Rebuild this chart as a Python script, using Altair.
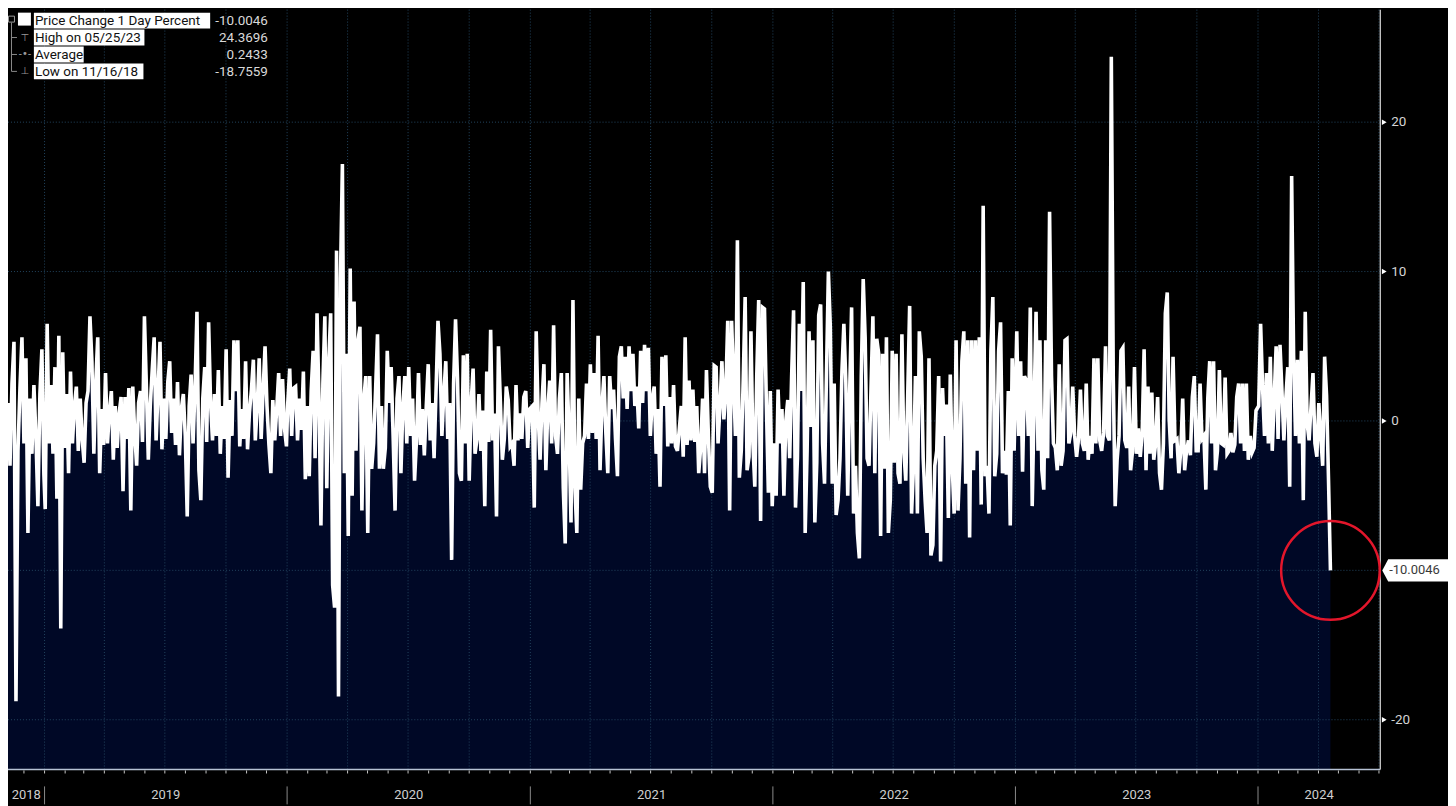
import altair as alt
import pandas as pd

# ---------------- data ----------------
V2018 = [1.2, -3.0, 2.5, 5.3, -18.7559, -2.0, 2.2, 5.6, -1.5, 4.2,
         -7.5, 1.5, -2.2, 2.4, -1.0, -5.7, 1.8, 4.8, -3.6]

V2019 = [-5.9, 6.5, -1.5, 2.4, -2.2, 3.6, -5.2, 5.7, -13.9, 4.6,
         -1.8, 1.8, -3.5, 3.3, -1.5, 1.0, 2.3, -2.0, 1.5, -1.2,
         -2.8, 1.2, 2.0, 7.0, 4.0, -2.2, 2.6, 5.6, -3.5, 0.8,
         -1.6, 3.2, -1.5, 0.6, 2.0, -2.6, 1.0, -1.8, 0.5, 1.6,
         -4.7, 1.6, -1.2, 2.2, -6.0, 2.3, -0.8, -3.0, 1.2, 2.0,
         -1.4, 7.0, 2.3, -2.6, 1.0, 3.4, 5.6, -1.3, 2.0, 5.3,
         -1.9, 1.5, -1.2, 2.6, 4.0, -0.8, 1.5, -1.6, 2.6, -2.3,
         0.8, 1.8, -1.0, -6.4, 1.0, 3.1, -1.5, 2.2, 7.3, -3.3,
         -5.3, 1.5, 3.6, -1.4, 6.6, 1.2, -1.3, 1.8, -1.0, 3.4,
         -2.2, 1.0, -1.2, 4.8, -3.8, 1.4, -1.0, 5.4, 2.0, 5.4,
         -1.7, 0.8, -1.2, 4.0, -1.9, 0.6, 2.1, 4.1, -1.3, 1.0,
         4.2, -1.2, 2.0, 5.0, 1.0, -1.6, -3.5, 1.4, -1.3, 0.8,
         3.2, -1.0, 2.8, -0.5, -1.7]

V2020 = [1.2, 3.5, -1.0, 2.2, 2.3, -1.3, 1.5, -0.6, 3.3, -3.9,
         1.0, -3.7, 2.0, 4.7, -2.5, 7.2, 1.5, -7.0, 2.5, 7.0,
         -4.5, 4.0, 7.2, -11.0, -12.5, 11.4, -18.45, 9.5, 17.2, -3.5,
         4.5, -7.7, 10.2, -5.0, 8.0, -2.0, 5.4, 6.3, -6.0, 1.5,
         3.0, -7.5, 3.0, -3.2, -1.5, 2.0, 5.8, -3.2, 1.0, -3.2,
         -1.8, 4.7, 1.2, 3.6, -1.0, -6.0, 1.5, 3.0, -3.5, 1.0,
         3.0, -1.5, 3.6, -1.0, 1.5, -4.0, -1.2, 3.2, -1.6, 0.8,
         -2.3, 1.0, 3.8, -1.3, 1.2, -2.5, 2.0, 6.7, 4.5, -1.0,
         1.8, 4.0, -1.2, 1.2, -9.3, 2.5, 6.8, 2.9, -3.5, -4.0,
         4.4, -1.5, 4.5, -4.0, 1.2, 3.5, -2.2, -1.2, 1.8, -2.0,
         0.7, -5.7, 3.3, -1.4, 6.1, -1.3, 0.5, -6.4, 5.0, 1.2,
         -2.6, -1.2, 2.3, 1.4, -1.7, -1.5, -3.0, 2.4, -1.3, 0.5,
         -1.2, 1.6, 2.0, -1.8, 0.8]

V2021 = [1.0, -5.8, 6.0, 0.5, -2.6, 1.2, 3.8, -3.3, 0.8, 2.7,
         -1.5, 6.4, -1.0, -2.2, 1.5, 3.2, -4.5, -8.2, 3.2, -1.0,
         -6.8, 8.1, -4.4, -7.5, 1.5, -4.6, -1.5, -1.0, 2.5, -1.2,
         3.8, -0.8, 3.2, -1.2, 5.7, -3.3, 1.0, 3.0, -0.8, -3.5,
         3.0, 0.8, 2.1, -1.2, -3.7, 4.3, 5.0, 1.5, 4.3, 0.8,
         5.0, 2.0, 4.5, 1.0, 2.3, -0.5, 4.7, 1.2, 5.1, 2.0,
         4.9, -1.0, 1.5, 2.3, -2.2, 0.8, -4.4, 4.3, 1.0, 4.4,
         -1.7, 1.6, -1.5, 2.4, -1.7, -2.0, -0.5, 1.0, -2.4, 5.6,
         -1.6, 2.7, -1.3, 2.1, -1.4, 1.0, -3.5, -1.8, 1.5, -3.5,
         3.4, -1.0, -4.4, -4.8, 3.7, 3.6, -1.5, 1.0, 4.0, 0.1,
         2.0, 6.7, -6.0, 6.7, 2.7, -1.0, 12.1, -3.8, -2.0, 2.7,
         8.3, -3.3, -2.4, 6.0, -1.5, -4.4, 3.0, 8.1, -6.7, 7.6,
         7.5, 1.0, -4.8, 2.0, -5.7]

V2022 = [-1.5, -5.0, 2.1, -1.5, 0.8, -5.0, 0.0, 1.4, -2.5, 3.0,
         7.4, -5.8, -2.5, 6.5, 2.0, 9.3, -7.5, -2.0, 6.0, -0.4,
         5.4, -6.8, -2.8, 7.1, 7.8, -1.5, -4.2, 3.0, 10.0, 6.3,
         -4.2, 2.5, -6.3, -5.3, -2.5, 3.3, 6.5, 2.7, -5.0, 2.0,
         7.6, -6.2, -3.0, -7.5, -9.2, 3.0, 9.5, 5.6, -2.5, -3.0,
         2.0, 7.0, -3.5, 5.5, 4.5, -7.7, 4.5, -3.2, 5.6, -7.5,
         -5.3, 4.7, -2.8, 4.5, -3.5, -4.2, 5.8, -2.0, -4.0, 1.7,
         7.7, -6.2, -3.0, 3.0, -6.2, 6.0, 4.3, -2.5, -5.3, -7.5,
         4.2, -9.0, -8.3, -3.0, -2.0, 3.0, -9.4, 2.2, -1.0, 1.1,
         -6.5, 3.1, -3.0, -6.2, 5.4, -6.0, -2.5, 4.0, 6.0, -4.2,
         5.4, -7.8, 5.4, -3.3, 5.4, -2.0, 5.6, -5.6, 14.4, -3.7,
         -3.0, -6.2, 4.7, 8.3, -3.7, -2.2, 4.7, 6.6, -3.5, -2.0,
         -3.6, 2.0, -7.0, 4.2, -2.0]

V2023 = [6.0, -1.0, 4.0, -3.4, 3.0, 2.7, -1.0, 7.6, -5.7, 1.2,
         7.3, -2.0, 5.4, -3.3, -4.6, 5.4, -2.5, 14.0, 3.0, -1.5,
         -1.8, -3.3, 3.8, -3.0, -2.0, 5.4, 5.5, -1.5, -0.8, 2.3,
         -1.0, -2.4, -1.2, 2.1, -1.5, -2.0, 2.5, -2.6, -1.0, -2.2,
         4.2, -1.5, 4.2, -1.3, -2.0, -0.8, 5.0, -1.0, -1.3, 24.3696,
         3.0, -5.7, -2.6, -1.0, 4.7, 4.9, -1.3, -1.8, 2.3, -3.3,
         -2.0, 3.6, -2.2, -0.5, -2.4, -0.8, 4.8, -3.3, 2.3, -2.2,
         1.9, -2.6, -1.5, 1.6, -3.5, -4.6, -1.5, 7.2, 8.6, 0.1,
         -2.5, 4.3, -1.3, -1.2, -3.5, -2.0, 1.5, -3.3, -2.0, -1.3,
         -2.3, 1.6, 3.0, -2.0, -2.0, 2.5, -1.2, -1.0, -4.6, 1.5,
         4.0, -1.5, 4.0, -3.3, -2.0, 3.4, -1.5, -1.6, 2.9, -2.2,
         -2.0, -0.8, -2.1, -1.6, 1.6, 2.5, -1.5, 2.5, -2.0, 2.5,
         -2.6, -1.0, -2.1, -1.8, 0.7]

V2024 = [1.0, 6.5, 2.3, -1.0, 3.2, -1.5, 4.3, -2.0, 1.5, 5.0,
         -1.2, 5.1, 2.0, -1.3, 1.5, 3.6, -4.4, 16.4, 4.4, -1.0,
         4.1, -1.5, 4.7, -5.3, 7.3, -0.2, -1.3, 1.0, 3.2, -1.5,
         -2.4, 1.2, -1.0, -3.0, 4.3, 1.7, -3.9, -10.0046]

SPANS = [("2018-11-07", "2018-12-31", V2018),
         ("2019-01-02", "2019-12-31", V2019),
         ("2020-01-02", "2020-12-31", V2020),
         ("2021-01-04", "2021-12-31", V2021),
         ("2022-01-03", "2022-12-30", V2022),
         ("2023-01-03", "2023-12-29", V2023),
         ("2024-01-02", "2024-04-19", V2024)]

LEGEND_LABELS = ["Price Change 1 Day Percent", "High on 05/25/23", "Average", "Low on 11/16/18"]
LEGEND_VALUES = ["-10.0046", "24.3696", "0.2433", "-18.7559"]
Y_TICKS = [20, 10, 0, -20]
GRID_Y = [20, 10, 0, -10, -20]
YEARS = [2018, 2019, 2020, 2021, 2022, 2023, 2024]

# ---------------- layout / style ----------------
W, H = 1378, 763
Y_MIN, Y_MAX = -23.33, 27.53
X_START = pd.Timestamp("2018-11-07")
X_END = pd.Timestamp("2024-07-03")
NAVY = "#000826"
GRID = "#22455f"
FONT = "Roboto"

frames = []
for start, end, vals in SPANS:
    frames.append(pd.DataFrame({"date": pd.date_range(start, end, periods=len(vals)),
                                "pct": vals}))
df = pd.concat(frames, ignore_index=True)
last = df.iloc[[-1]].copy()
last["label"] = f"{last['pct'].iloc[0]:.4f}"

xs = alt.Scale(domain=[alt.DateTime(year=2018, month=11, date=7),
                       alt.DateTime(year=2024, month=7, date=3)])
ys = alt.Scale(domain=[Y_MIN, Y_MAX], nice=False, zero=False)
X = alt.X("date:T", scale=xs, axis=None)
Y = alt.Y("pct:Q", scale=ys, axis=None)

area = alt.Chart(df).mark_area(color=NAVY, clip=True).encode(
    x=X, y=Y, y2=alt.datum(Y_MIN))

qdf = pd.DataFrame({"date": pd.date_range("2019-01-01", "2024-07-01", freq="QS")})
vgrid = alt.Chart(qdf).mark_rule(color=GRID, strokeDash=[1, 2], strokeWidth=1).encode(x=X)

hgrid = alt.Chart(pd.DataFrame({"pct": GRID_Y})).mark_rule(
    color=GRID, strokeDash=[1, 2], strokeWidth=1).encode(y=Y)

line = alt.Chart(df).mark_line(color="white", strokeWidth=3.6, clip=True).encode(x=X, y=Y)

one = pd.DataFrame({"k": [0]})
xaxis_line = alt.Chart(one).mark_rule(color="#b6c1d4", strokeWidth=1.5).encode(
    x=alt.value(0), x2=alt.value(W), y=alt.value(H))
yaxis_line = alt.Chart(one).mark_rule(color="#cfcfcf", strokeWidth=1.3).encode(
    x=alt.value(W), y=alt.value(0), y2=alt.value(H))

ytick_df = pd.DataFrame({"pct": Y_TICKS, "label": [str(v) for v in Y_TICKS]})
ylabels = alt.Chart(ytick_df).mark_text(
    align="left", baseline="middle", color="#d4d4d4", font=FONT, fontSize=13.5).encode(
    x=alt.value(W + 11), y=Y, text="label:N")
tri = alt.Chart(ytick_df).mark_point(
    shape="triangle-right", filled=True, color="white", size=30, opacity=1).encode(
    x=alt.value(W + 4), y=Y)

mdf = pd.DataFrame({"date": pd.date_range("2018-12-01", "2024-07-01", freq="MS")})
mticks = alt.Chart(mdf).mark_rule(color="#c8c8c8", strokeWidth=1).encode(
    x=X, y=alt.value(H + 1), y2=alt.value(H + 4))

ydf = pd.DataFrame({"date": pd.date_range("2019-01-01", "2024-01-01", freq="YS")})
yseps = alt.Chart(ydf).mark_rule(color="#8a8a8a", strokeWidth=1).encode(
    x=X, y=alt.value(H + 17), y2=alt.value(H + 35))

mids = []
for yr in YEARS:
    a = max(pd.Timestamp(f"{yr}-01-01"), X_START)
    b = min(pd.Timestamp(f"{yr + 1}-01-01"), X_END)
    mids.append(a + (b - a) / 2)
ylab = alt.Chart(pd.DataFrame({"date": mids, "label": [str(y) for y in YEARS]})).mark_text(
    color="#cfcfcf", font=FONT, fontSize=13, baseline="middle").encode(
    x=X, y=alt.value(H + 26), text="label:N")

circle = alt.Chart(last).mark_point(
    shape="circle", filled=False, color="#e3162b", strokeWidth=2.5, size=9801, opacity=1).encode(
    x=X, y=Y)

TAG = "M -1 0 L -0.82 -0.34 L 1 -0.34 L 1 0.34 L -0.82 0.34 Z"
tag = alt.Chart(last).mark_point(
    shape=TAG, filled=True, color="white", size=4356, opacity=1, strokeWidth=0).encode(
    x=alt.value(W + 35), y=Y)
tag_text = alt.Chart(last).mark_text(
    align="left", baseline="middle", color="#3a3a3a", font=FONT, fontSize=13).encode(
    x=alt.value(W + 9), y=Y, text="label:N")

# ---------------- legend (top-left) ----------------
ROW_Y = [11, 28, 45, 62]
BOX_W = [177, 111, 50, 110]
GLYPHS = [None, "⊤", "-•-", "⊥"]
legend_layers = []
legend_layers.append(alt.Chart(one).mark_rect(fill="white").encode(
    x=alt.value(10), x2=alt.value(23), y=alt.value(3), y2=alt.value(16)))
legend_layers.append(alt.Chart(one).mark_rect(fill=None, stroke="#9a9a9a", strokeWidth=1).encode(
    x=alt.value(0.5), x2=alt.value(6.5), y=alt.value(6.5), y2=alt.value(12.5)))
legend_layers.append(alt.Chart(one).mark_rule(color="#8a8a8a", strokeWidth=1).encode(
    x=alt.value(3.5), y=alt.value(13), y2=alt.value(62)))
for i, (lab, val) in enumerate(zip(LEGEND_LABELS, LEGEND_VALUES)):
    cy = ROW_Y[i]
    legend_layers.append(alt.Chart(one).mark_rect(fill="white").encode(
        x=alt.value(26), x2=alt.value(26 + BOX_W[i]),
        y=alt.value(cy - 8), y2=alt.value(cy + 8)))
    legend_layers.append(alt.Chart(one).mark_text(
        text=lab, align="left", baseline="middle", color="#111111", font=FONT,
        fontSize=13.5).encode(x=alt.value(27), y=alt.value(cy + 0.5)))
    legend_layers.append(alt.Chart(one).mark_text(
        text=val, align="right", baseline="middle", color="#d9d9d9", font=FONT,
        fontSize=13.5).encode(x=alt.value(261), y=alt.value(cy + 0.5)))
    if GLYPHS[i]:
        legend_layers.append(alt.Chart(one).mark_rule(color="#8a8a8a", strokeWidth=1).encode(
            x=alt.value(3.5), x2=alt.value(9), y=alt.value(cy)))
        legend_layers.append(alt.Chart(one).mark_text(
            text=GLYPHS[i], align="center", baseline="middle", color="#9a9a9a",
            font="DejaVu Sans", fontSize=10).encode(x=alt.value(17), y=alt.value(cy)))

chart = alt.layer(
    area, vgrid, hgrid, line, xaxis_line, yaxis_line, mticks, yseps, ylab,
    tri, ylabels, circle, tag, tag_text, *legend_layers
).properties(
    width=W, height=H,
    padding={"left": 0, "top": 0, "right": 68, "bottom": 35},
    autosize=alt.AutoSizeParams(type="none"),
    background="#000000",
).configure_view(stroke=None)

chart.save("out.html", embed_options={"renderer": "svg", "actions": False})
